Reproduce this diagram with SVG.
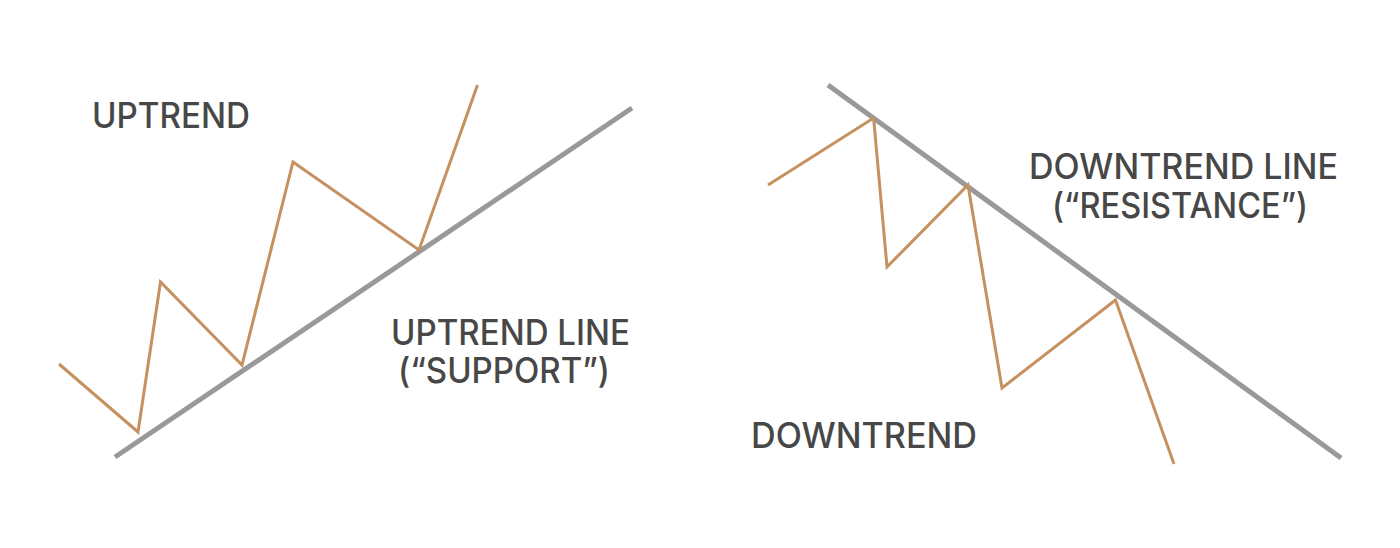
<svg xmlns="http://www.w3.org/2000/svg" width="1400" height="548" viewBox="0 0 1400 548">
<style>
.lbl{font-family:"Inter","Noto Sans","Liberation Sans",sans-serif;font-weight:500;font-size:35px;fill:#474747}
.trend{fill:none;stroke:#999999;stroke-width:5;stroke-linecap:butt}
.price{fill:none;stroke:#c4915f;stroke-width:3;stroke-linejoin:miter}
</style>
<rect width="1400" height="548" fill="#ffffff"/>
<g id="connectors">
<line class="trend" x1="115" y1="457" x2="632" y2="108"/>
<polyline class="price" points="59,364 138,432 160.5,282 242,365 293,162 419,250 477.5,85"/>
<line class="trend" x1="828" y1="85" x2="1341" y2="458"/>
<polyline class="price" points="768,185 873.6,118 887,267 968,185 1002,388 1115.5,300 1174,464"/>
</g>
<g id="uptrend-label"><text class="lbl" x="92" y="128" textLength="158" lengthAdjust="spacingAndGlyphs">UPTREND</text></g>
<g id="uptrend-line-label">
<text class="lbl" x="391" y="345" textLength="239" lengthAdjust="spacingAndGlyphs">UPTREND LINE</text>
<text class="lbl" x="398" y="383" textLength="212" lengthAdjust="spacingAndGlyphs">(“SUPPORT”)</text>
</g>
<g id="downtrend-line-label">
<text class="lbl" x="1029" y="179" textLength="309" lengthAdjust="spacingAndGlyphs">DOWNTREND LINE</text>
<text class="lbl" x="1052" y="218" textLength="256" lengthAdjust="spacingAndGlyphs">(“RESISTANCE”)</text>
</g>
<g id="downtrend-label"><text class="lbl" x="751" y="448" textLength="226" lengthAdjust="spacingAndGlyphs">DOWNTREND</text></g>
</svg>
